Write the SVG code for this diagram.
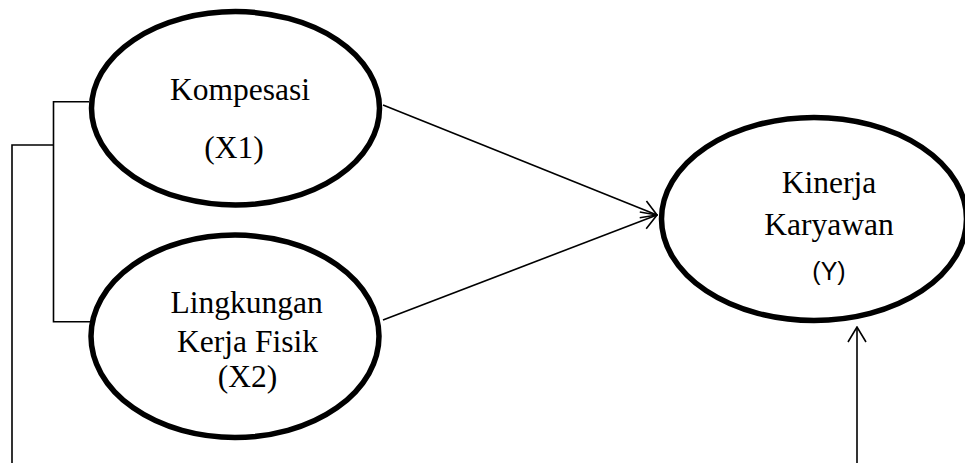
<svg xmlns="http://www.w3.org/2000/svg" width="965" height="463" viewBox="0 0 965 463">
<style>
.node{fill:#fff;stroke:#000;stroke-width:5.5}
.t{font-family:"Liberation Serif","Times New Roman",serif;font-size:31.5px;fill:#000;text-anchor:middle}
.ts{font-family:"Liberation Sans",Arial,sans-serif;font-size:25px;fill:#000;text-anchor:middle}
.c{fill:none;stroke:#000;stroke-width:1.6}
</style>
<defs>
<marker id="arr" viewBox="0 0 17 20" refX="16" refY="10" markerWidth="17" markerHeight="20" markerUnits="userSpaceOnUse" orient="auto">
<path d="M1,1 L16,10 L1,19" fill="none" stroke="#000" stroke-width="1.6"/>
</marker>
</defs>
<rect width="965" height="463" fill="#fff"/>
<g id="connectors">
<polyline class="c" points="89,101.7 53.5,101.7 53.5,321.7 90,321.7"/>
<polyline class="c" points="53.5,145 12,145 12,463"/>
<line class="c" x1="383" y1="105" x2="657" y2="215" marker-end="url(#arr)"/>
<line class="c" x1="383" y1="320" x2="657" y2="215" marker-end="url(#arr)"/>
<line class="c" x1="857" y1="463" x2="857" y2="327" marker-end="url(#arr)"/>
</g>
<g id="x1">
<ellipse class="node" cx="235.5" cy="108.3" rx="144" ry="96.7"/>
<text class="t" x="240" y="100">Kompesasi</text>
<text class="t" x="234" y="158">(X1)</text>
</g>
<g id="x2">
<ellipse class="node" cx="235" cy="336.3" rx="144" ry="101.2"/>
<text class="t" x="246.7" y="313.3">Lingkungan</text>
<text class="t" x="247.5" y="351.7">Kerja Fisik</text>
<text class="t" x="247.5" y="386.7">(X2)</text>
</g>
<g id="y">
<ellipse class="node" cx="814" cy="219" rx="152.5" ry="101.5"/>
<text class="t" x="829" y="193.3">Kinerja</text>
<text class="t" x="829" y="235">Karyawan</text>
<text class="ts" x="829" y="280">(Y)</text>
</g>
</svg>
